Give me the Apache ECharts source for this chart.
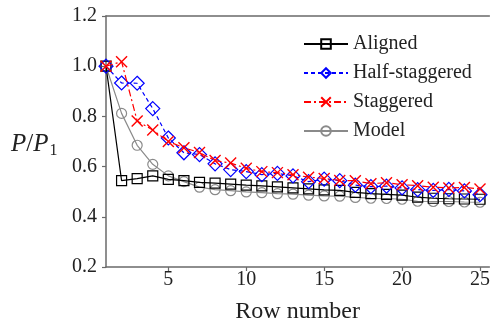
<!DOCTYPE html>
<html>
<head>
<meta charset="utf-8">
<script src="https://cdn.jsdelivr.net/npm/echarts@6/dist/echarts.min.js"></script>
<style>html,body{margin:0;padding:0;background:#fff}#c{width:493px;height:329px}</style>
</head>
<body>
<div id="c"></div>
<script>
var rows = [1,2,3,4,5,6,7,8,9,10,11,12,13,14,15,16,17,18,19,20,21,22,23,24,25];
var aligned = [1.0,0.544,0.552,0.563,0.549,0.544,0.537,0.534,0.530,0.526,0.523,0.519,0.515,0.511,0.507,0.505,0.497,0.492,0.489,0.486,0.478,0.474,0.472,0.471,0.470];
var halfStaggered = [1.0,0.933,0.932,0.831,0.714,0.655,0.648,0.611,0.588,0.580,0.568,0.573,0.563,0.540,0.550,0.544,0.526,0.520,0.522,0.515,0.508,0.505,0.509,0.503,0.488];
var staggered = [1.0,1.018,0.782,0.746,0.700,0.675,0.656,0.624,0.614,0.593,0.580,0.576,0.568,0.558,0.553,0.545,0.544,0.532,0.536,0.528,0.524,0.518,0.515,0.517,0.511];
var model = [1.0,0.812,0.685,0.609,0.563,0.540,0.518,0.508,0.504,0.499,0.496,0.492,0.490,0.486,0.483,0.482,0.477,0.474,0.473,0.470,0.462,0.461,0.461,0.459,0.458];
var xTicks = [5,10,15,20,25];
var seriesNames = ['Aligned','Half-staggered','Staggered','Model'];

function pairs(v){ return rows.map(function(r,i){ return [r, v[i]]; }); }
var font = 'Liberation Serif, Times New Roman, serif';
var axisGray = '#6a6a6a';
var chart = echarts.init(document.getElementById('c'));
chart.setOption({
  animation: false,
  backgroundColor: '#fff',
  title: {
    text: '{i|P}{n|/}{i|P}{s|1}',
    left: 6, top: 124,
    textStyle: {
      fontFamily: font, color: '#222', fontWeight: 'normal',
      rich: {
        i: {fontFamily: font, fontStyle: 'italic', fontWeight: 'normal', fontSize: 25, color: '#222'},
        n: {fontFamily: font, fontWeight: 'normal', fontSize: 25, color: '#222'},
        s: {fontFamily: font, fontWeight: 'normal', fontSize: 16, color: '#222', padding: [14,0,0,1]}
      }
    }
  },
  legend: {
    orient: 'vertical', left: 298, top: 29,
    itemWidth: 44, itemHeight: 12, itemGap: 9,
    textStyle: {fontFamily: font, fontSize: 20, color: '#222'},
    data: seriesNames
  },
  grid: {left: 106, top: 16, right: 0, bottom: 58, containLabel: false},
  xAxis: [{
    type: 'value', min: 1, max: 25.6,
    name: 'Row number', nameLocation: 'middle', nameGap: 33,
    nameTextStyle: {fontFamily: font, fontSize: 24, color: '#222'},
    axisLine: {show: true, lineStyle: {color: axisGray, width: 1.5}},
    axisTick: {show: true, inside: false, length: 4, customValues: xTicks, lineStyle: {color: axisGray, width: 1.2}},
    axisLabel: {customValues: xTicks, fontFamily: font, fontSize: 20, color: '#222', margin: 3},
    splitLine: {show: false}
  },{
    type: 'value', position: 'top', min: 1, max: 25.6,
    axisLine: {show: true, lineStyle: {color: axisGray, width: 1.5}},
    axisTick: {show: false}, axisLabel: {show: false}, splitLine: {show: false}
  }],
  yAxis: {
    type: 'value', min: 0.2, max: 1.2, interval: 0.2,
    axisLine: {show: true, lineStyle: {color: axisGray, width: 1.5}},
    axisTick: {show: true, length: 4, lineStyle: {color: axisGray, width: 1.2}},
    axisLabel: {fontFamily: font, fontSize: 20, color: '#222', margin: 9,
      formatter: function(v){ return v.toFixed(1); }},
    splitLine: {show: false}
  },
  series: [
    {name: 'Model', type: 'line', data: pairs(model), symbol: 'circle', symbolSize: 10,
     lineStyle: {color: '#8a8a8a', width: 1.2},
     itemStyle: {color: 'rgba(255,255,255,0)', borderColor: '#8a8a8a', borderWidth: 1.2}, z: 2},
    {name: 'Aligned', type: 'line', data: pairs(aligned), symbol: 'rect', symbolSize: 10,
     lineStyle: {color: '#000', width: 1.2},
     itemStyle: {color: 'rgba(255,255,255,0)', borderColor: '#000', borderWidth: 1.2}, z: 3},
    {name: 'Half-staggered', type: 'line', data: pairs(halfStaggered), symbol: 'diamond', symbolSize: [14,14],
     lineStyle: {color: '#0000ff', width: 1.2, type: [4,3]},
     itemStyle: {color: 'rgba(255,255,255,0)', borderColor: '#0000ff', borderWidth: 1.2}, z: 4},
    {name: 'Staggered', type: 'line', data: pairs(staggered), symbol: 'path://M0,0L10,10M10,0L0,10', symbolSize: 11,
     lineStyle: {color: '#ff0000', width: 1.2, type: [7,3,2,3]},
     itemStyle: {color: 'rgba(255,255,255,0)', borderColor: '#ff0000', borderWidth: 1.4}, z: 5}
  ]
});
</script>
</body>
</html>
